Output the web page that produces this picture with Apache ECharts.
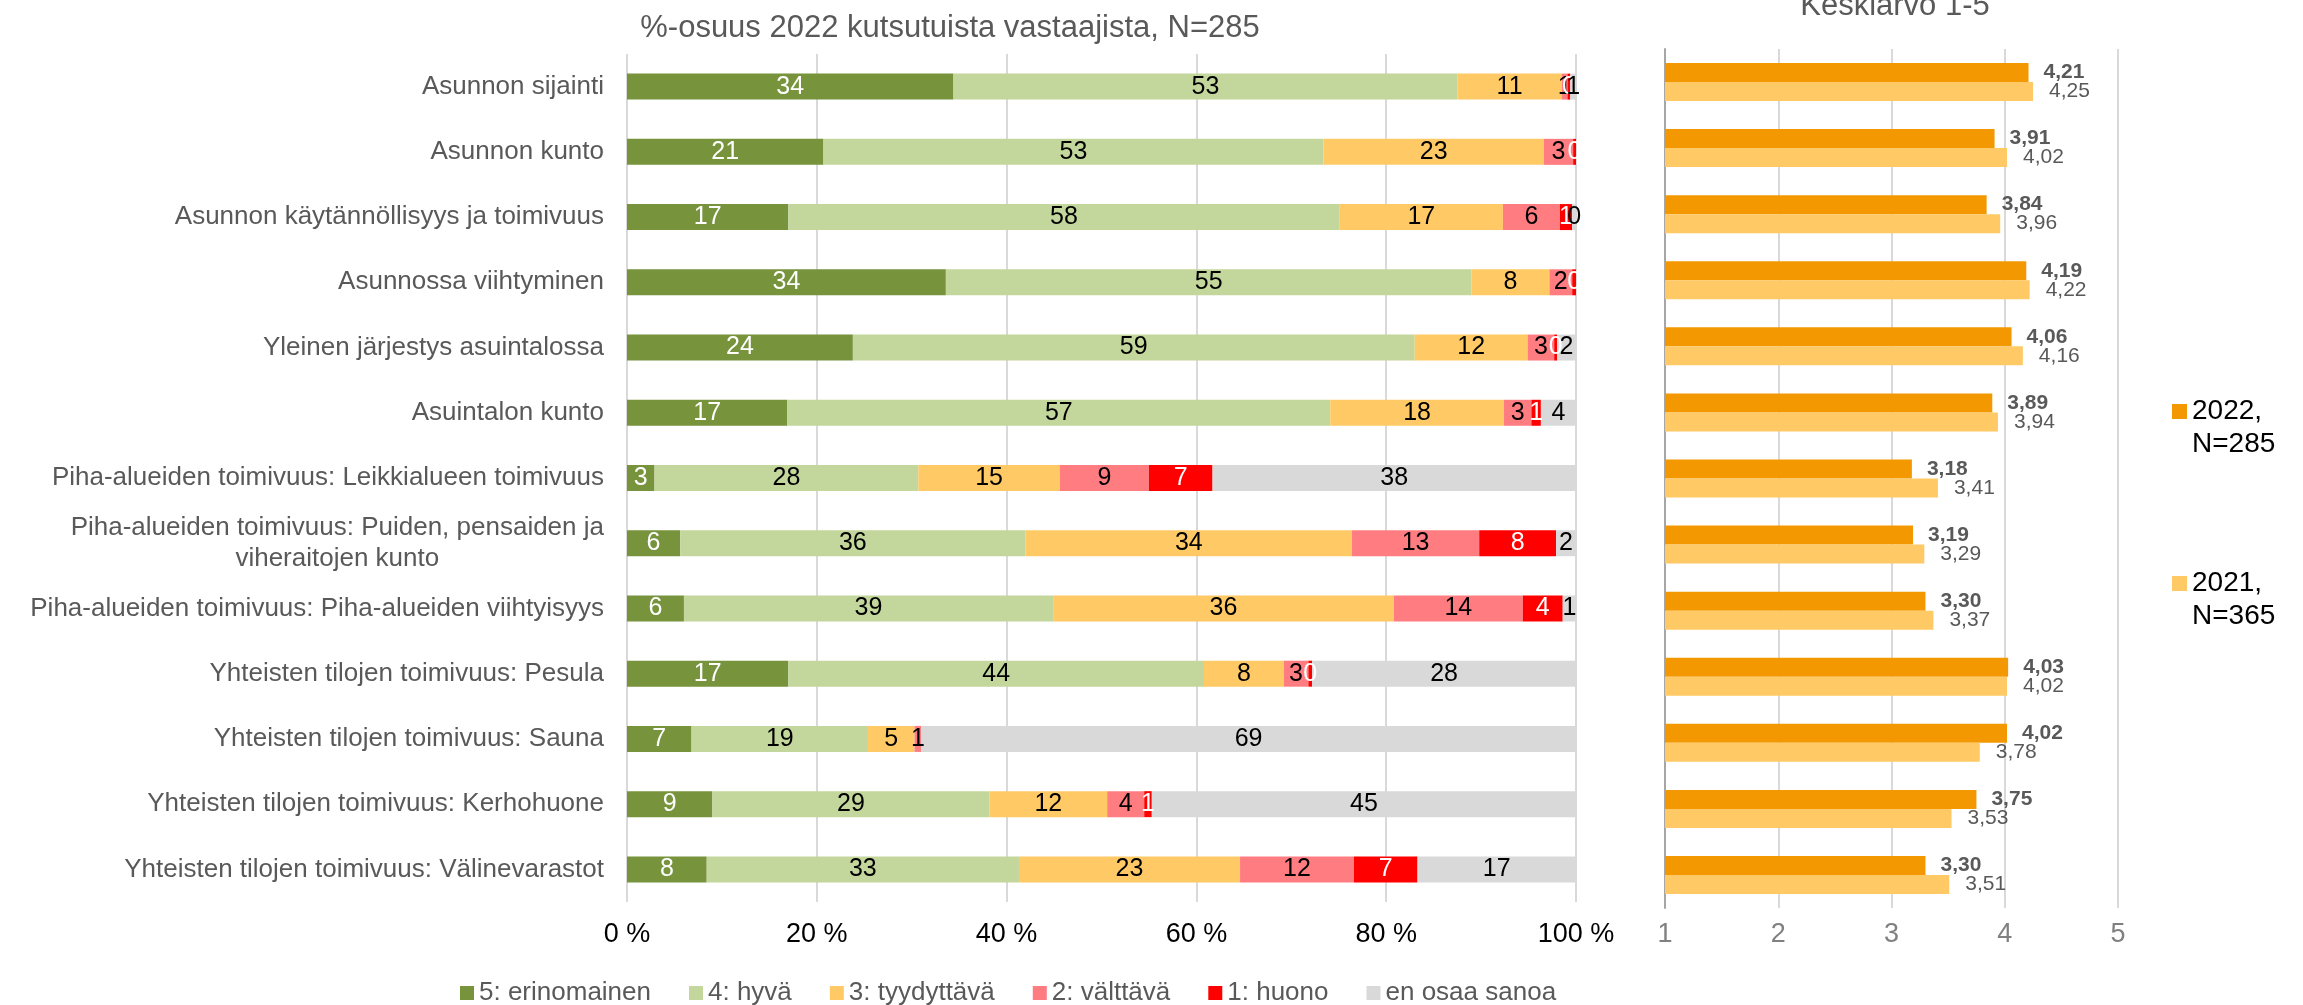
<!DOCTYPE html>
<html>
<head>
<meta charset="utf-8">
<script src="https://cdn.jsdelivr.net/npm/echarts@6/dist/echarts.min.js"></script>
<style>
  html, body { margin: 0; padding: 0; background: #fff; }
  #chart { width: 2303px; height: 1005px; }
</style>
</head>
<body>
<div id="chart"></div>
<script>
// kysymykset
const categories = [
  'Asunnon sijainti',
  'Asunnon kunto',
  'Asunnon käytännöllisyys ja toimivuus',
  'Asunnossa viihtyminen',
  'Yleinen järjestys asuintalossa',
  'Asuintalon kunto',
  'Piha-alueiden toimivuus: Leikkialueen toimivuus',
  'Piha-alueiden toimivuus: Puiden, pensaiden ja\nviheraitojen kunto',
  'Piha-alueiden toimivuus: Piha-alueiden viihtyisyys',
  'Yhteisten tilojen toimivuus: Pesula',
  'Yhteisten tilojen toimivuus: Sauna',
  'Yhteisten tilojen toimivuus: Kerhohuone',
  'Yhteisten tilojen toimivuus: Välinevarastot'
];

// %-osuudet 2022
const erinomainen = [34.4, 20.7, 17.0, 33.6, 23.8, 16.9, 2.9, 5.6, 6.0, 17.0, 6.8, 9.0, 8.4];
const hyva        = [53.1, 52.7, 58.1, 55.4, 59.2, 57.2, 27.8, 36.4, 38.9, 43.8, 18.6, 29.2, 32.9];
const tyydyttava  = [11.0, 23.2, 17.2, 8.2, 11.9, 18.3, 14.9, 34.4, 35.9, 8.4, 4.9, 12.4, 23.3];
const valttava    = [0.6, 3.1, 6.0, 2.4, 2.8, 2.9, 9.4, 13.4, 13.6, 2.6, 0.7, 3.9, 12.0];
const huono       = [0.3, 0.3, 1.3, 0.4, 0.3, 1.0, 6.7, 8.1, 4.2, 0.4, 0, 0.8, 6.7];
const eiOsaa      = [0.6, 0, 0.4, 0, 2.0, 3.7, 38.3, 2.1, 1.4, 27.8, 69.0, 44.7, 16.7];

// keskiarvot 1-5
const keskiarvo2022 = [4.21, 3.91, 3.84, 4.19, 4.06, 3.89, 3.18, 3.19, 3.30, 4.03, 4.02, 3.75, 3.30];
const keskiarvo2021 = [4.25, 4.02, 3.96, 4.22, 4.16, 3.94, 3.41, 3.29, 3.37, 4.02, 3.78, 3.53, 3.51];

const percentTicks = [0, 20, 40, 60, 80, 100];
const meanTicks = [1, 2, 3, 4, 5];

const FONT = 'Liberation Sans';
const stackDefs = [
  { name: '5: erinomainen', data: erinomainen, color: '#77933C', text: '#ffffff' },
  { name: '4: hyvä',        data: hyva,        color: '#C3D69B', text: '#000000' },
  { name: '3: tyydyttävä',  data: tyydyttava,  color: '#FFCA65', text: '#000000' },
  { name: '2: välttävä',    data: valttava,    color: '#FF7C80', text: '#000000' },
  { name: '1: huono',       data: huono,       color: '#FF0000', text: '#ffffff' },
  { name: 'en osaa sanoa',  data: eiOsaa,      color: '#D9D9D9', text: '#000000' }
];

const myChart = echarts.init(document.getElementById('chart'));

const stackSeries = stackDefs.map(function (d) {
  return {
    name: d.name,
    type: 'bar',
    stack: 'osuus',
    xAxisIndex: 0,
    yAxisIndex: 0,
    barWidth: 26,
    itemStyle: { color: d.color },
    label: {
      show: true,
      position: 'inside',
      color: d.text,
      fontFamily: FONT,
      fontSize: 25,
      formatter: function (p) {
        return p.value > 0 ? String(Math.round(p.value)) : '';
      }
    },
    emphasis: { disabled: true },
    data: d.data
  };
});

function fmtMean(p) {
  return p.value.toFixed(2).replace('.', ',');
}

myChart.setOption({
  animation: false,
  textStyle: { fontFamily: FONT },
  title: [
    {
      text: '%-osuus 2022 kutsutuista vastaajista, N=285',
      left: 945,
      top: 8,
      textAlign: 'center',
      textStyle: { fontFamily: FONT, fontSize: 31, fontWeight: 'normal', color: '#595959' }
    },
    {
      text: 'Keskiarvo 1-5',
      left: 1890,
      top: -14,
      textAlign: 'center',
      textStyle: { fontFamily: FONT, fontSize: 31, fontWeight: 'normal', color: '#595959' }
    }
  ],
  legend: [
    {
      data: stackDefs.map(function (d) { return d.name; }),
      left: 455,
      top: 975,
      itemWidth: 14,
      itemHeight: 14,
      itemGap: 38,
      icon: 'rect',
      textStyle: { fontFamily: FONT, fontSize: 26, color: '#595959' }
    },
    {
      data: ['2022, N=285', '2021, N=365'],
      orient: 'vertical',
      left: 2167,
      top: 390,
      itemWidth: 15,
      itemHeight: 48,
      itemGap: 106,
      icon: 'path://M0,0h10v10h-10zM9.9,31.9h0.1v0.1h-0.1z',
      formatter: function (name) { return name.replace(', ', ',\n'); },
      textStyle: { fontFamily: FONT, fontSize: 28, color: '#000000', lineHeight: 33 }
    }
  ],
  grid: [
    { left: 627, top: 54, width: 949, height: 848 },
    { left: 1665, top: 49, width: 453, height: 859 }
  ],
  xAxis: [
    {
      type: 'value',
      gridIndex: 0,
      min: percentTicks[0],
      max: percentTicks[percentTicks.length - 1],
      interval: 20,
      axisLine: { show: false },
      axisTick: { show: false },
      splitLine: { lineStyle: { color: '#D9D9D9', width: 2 } },
      axisLabel: {
        fontFamily: FONT,
        fontSize: 27,
        color: '#000000',
        margin: 19,
        formatter: '{value} %'
      }
    },
    {
      type: 'value',
      gridIndex: 1,
      min: meanTicks[0],
      max: meanTicks[meanTicks.length - 1],
      interval: 1,
      axisLine: { show: false },
      axisTick: { show: false },
      splitLine: { lineStyle: { color: '#D9D9D9', width: 2 } },
      axisLabel: { fontFamily: FONT, fontSize: 27, color: '#808080', margin: 13 }
    }
  ],
  yAxis: [
    {
      type: 'category',
      gridIndex: 0,
      inverse: true,
      data: categories,
      axisLine: { show: false },
      axisTick: { show: false },
      axisLabel: {
        fontFamily: FONT,
        fontSize: 26,
        color: '#595959',
        margin: 23,
        lineHeight: 31,
        formatter: function (v) {
          if (v.indexOf('\n') < 0) return v;
          const parts = v.split('\n');
          return '{a|' + parts[0] + '}\n{b|' + parts[1] + '}';
        },
        rich: {
          a: { fontFamily: FONT, fontSize: 26, color: '#595959', lineHeight: 31 },
          b: { fontFamily: FONT, fontSize: 26, color: '#595959', lineHeight: 31, align: 'center' }
        }
      }
    },
    {
      type: 'category',
      gridIndex: 1,
      inverse: true,
      data: categories,
      axisLine: { show: true, lineStyle: { color: '#A6A6A6', width: 2 } },
      axisTick: { show: false },
      axisLabel: { show: false }
    }
  ],
  series: stackSeries.concat([
    {
      name: '2022, N=285',
      type: 'bar',
      xAxisIndex: 1,
      yAxisIndex: 1,
      barWidth: 19,
      barGap: '0%',
      itemStyle: { color: '#F39800' },
      label: {
        show: true,
        position: 'right',
        distance: 15,
        fontFamily: FONT,
        fontSize: 21,
        fontWeight: 'bold',
        color: '#595959',
        formatter: fmtMean
      },
      emphasis: { disabled: true },
      data: keskiarvo2022
    },
    {
      name: '2021, N=365',
      type: 'bar',
      xAxisIndex: 1,
      yAxisIndex: 1,
      barWidth: 19,
      barGap: '0%',
      itemStyle: { color: '#FFCA65' },
      label: {
        show: true,
        position: 'right',
        distance: 16,
        fontFamily: FONT,
        fontSize: 21,
        color: '#595959',
        formatter: fmtMean
      },
      emphasis: { disabled: true },
      data: keskiarvo2021
    }
  ])
});
</script>
</body>
</html>
